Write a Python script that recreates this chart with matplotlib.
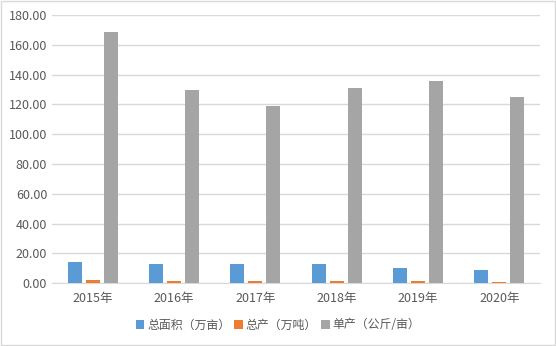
import numpy as np
import matplotlib.pyplot as plt

plt.rcParams['font.family'] = ['Noto Sans CJK SC', 'DejaVu Sans']

years = ['2015年', '2016年', '2017年', '2018年', '2019年', '2020年']
area = [14.3, 13.0, 13.0, 13.0, 10.3, 8.9]
output = [2.2, 1.5, 1.5, 1.5, 1.5, 0.9]
yield_per_mu = [168.6, 129.7, 119.0, 131.0, 135.8, 125.0]
labels = ['总面积（万亩）', '总产（万吨）', '单产（公斤/亩）']
colors = ['#5b9bd5', '#ed7d31', '#a5a5a5']

fig = plt.figure(figsize=(5.56, 3.46), dpi=100)
fig.patches.append(plt.Rectangle((0.001, 0.002), 0.997, 0.995, transform=fig.transFigure,
                                 fill=False, edgecolor='#d9d9d9', linewidth=1))
ax = fig.add_axes([52 / 556, 1 - 283.3 / 346, 488 / 556, (283.3 - 15) / 346])

x = np.arange(len(years))
w = 0.172
step = 0.221
for i, (vals, lab, c) in enumerate(zip([area, output, yield_per_mu], labels, colors)):
    ax.bar(x + (i - 1) * step, vals, width=w, color=c, label=lab, zorder=3)

ax.set_xlim(-0.5, len(years) - 0.5)
ax.set_ylim(0, 180)
ax.set_yticks(np.arange(0, 181, 20))
ax.set_yticklabels(['%.2f' % v for v in np.arange(0, 181, 20)])
ax.set_xticks(x)
ax.set_xticklabels(years)
ax.grid(axis='y', color='#d9d9d9', linewidth=1, zorder=0)
for s in ['top', 'right', 'left']:
    ax.spines[s].set_visible(False)
ax.spines['bottom'].set_color('#d9d9d9')
ax.tick_params(axis='both', length=0, labelsize=9, colors='#595959')
ax.tick_params(axis='x', pad=6)

ax.legend(loc='center', bbox_to_anchor=(0.5, (346 - 325) / 346), bbox_transform=fig.transFigure,
          ncol=3, frameon=False, fontsize=8.6, labelcolor='#595959',
          handlelength=0.7, handleheight=0.7, handletextpad=0.25, columnspacing=0.35)

fig.savefig('out.png', dpi=100)
